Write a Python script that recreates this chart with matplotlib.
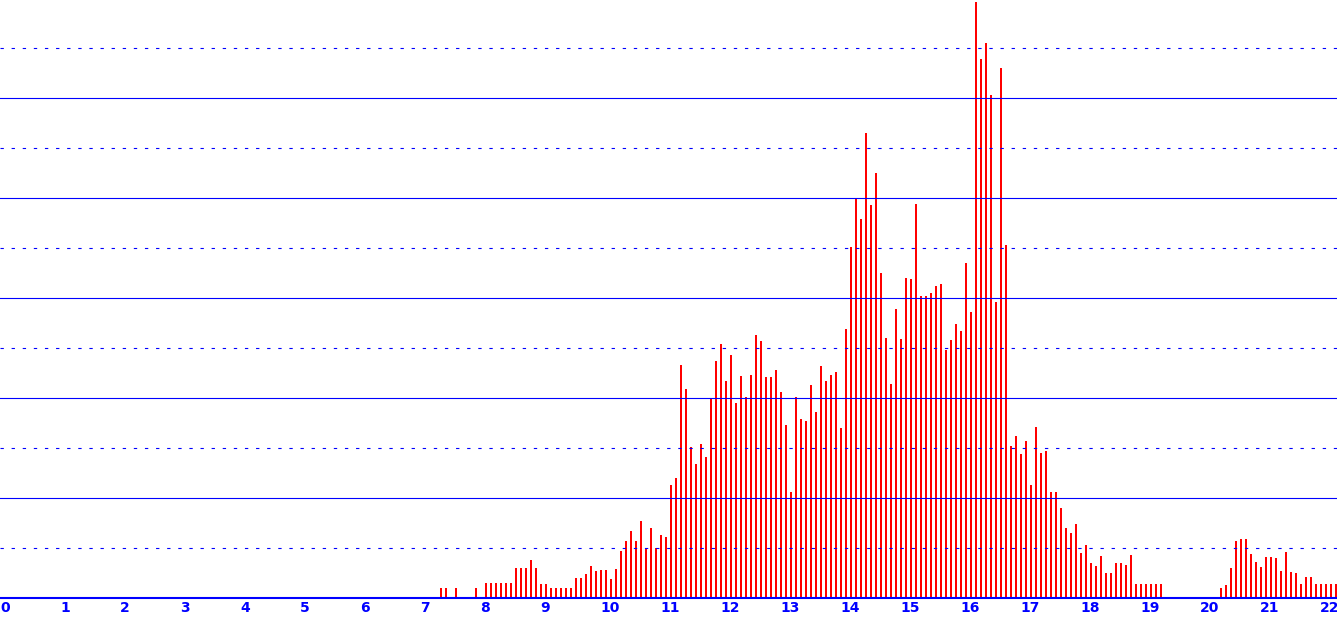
import numpy as np
import matplotlib.pyplot as plt

# bar heights, one bar every 1/12 on x, first bar at x = 7 + 4/12
first_slot = 88
heights = [
    0.20, 0.20, 0.00, 0.20, 0.00, 0.00, 0.00, 0.20,                      # 7.33 .. 7.92
    0.00, 0.30, 0.30, 0.30, 0.30, 0.30, 0.30, 0.60, 0.60, 0.60, 0.76, 0.60,  # 8
    0.28, 0.28, 0.20, 0.20, 0.20, 0.20, 0.20, 0.40, 0.40, 0.48, 0.64, 0.54,  # 9
    0.57, 0.57, 0.39, 0.59, 0.95, 1.15, 1.35, 1.15, 1.55, 1.00, 1.41, 1.00,  # 10
    1.27, 1.23, 2.27, 2.41, 4.67, 4.19, 3.03, 2.69, 3.09, 2.83, 4.01, 4.75,  # 11
    5.09, 4.35, 4.87, 3.91, 4.45, 4.03, 4.47, 5.27, 5.15, 4.43, 4.43, 4.57,  # 12
    4.13, 3.47, 2.13, 4.03, 3.59, 3.55, 4.27, 3.73, 4.65, 4.35, 4.47, 4.53,  # 13
    3.41, 5.39, 7.03, 8.01, 7.59, 9.31, 7.87, 8.51, 6.51, 5.21, 4.29, 5.79,  # 14
    5.19, 6.41, 6.39, 7.89, 6.05, 6.05, 6.11, 6.25, 6.29, 4.97, 5.17, 5.48,  # 15
    5.34, 6.71, 5.72, 11.92, 10.78, 11.11, 10.06, 5.93, 10.60, 7.06, 3.04, 3.25,  # 16
    2.88, 3.14, 2.26, 3.43, 2.91, 2.95, 2.13, 2.13, 1.80, 1.40, 1.31, 1.49,  # 17
    0.91, 1.07, 0.71, 0.65, 0.85, 0.51, 0.51, 0.71, 0.71, 0.67, 0.87, 0.29,  # 18
    0.29, 0.29, 0.29, 0.29, 0.29, 0.00, 0.00, 0.00, 0.00, 0.00, 0.00, 0.00,  # 19
    0.00, 0.00, 0.00, 0.00, 0.21, 0.27, 0.61, 1.15, 1.19, 1.19, 0.89, 0.73,  # 20
    0.63, 0.83, 0.83, 0.81, 0.55, 0.93, 0.53, 0.51, 0.29, 0.43, 0.43, 0.29,  # 21
    0.29, 0.29, 0.29, 0.29,                                              # 22
]
x_ticks = list(range(0, 23))

blue = '#0000ff'
red = '#ff0000'

x = (first_slot + np.arange(len(heights))) / 12.0

fig = plt.figure(figsize=(13.37, 6.18), dpi=100)
ax = fig.add_axes([0, 20 / 618, 1, 598 / 618])

ax.bar(x, heights, width=2.2 / 60, align='edge', color=red, zorder=2,
       antialiased=False)

# gridlines drawn over the bars: solid on even values, dotted on odd ones
for v in range(1, 12):
    if v % 2 == 0:
        ax.axhline(v, color=blue, lw=0.8, zorder=3)
    else:
        ax.axhline(v, color=blue, lw=0.8, ls=(0, (3, 7)), zorder=3)

ax.set_xlim(0, 1337 / 60)
ax.set_ylim(0, 598 / 50)
for s in ['top', 'left', 'right']:
    ax.spines[s].set_visible(False)
ax.spines['bottom'].set_color(blue)
ax.spines['bottom'].set_linewidth(1.5)
ax.spines['bottom'].set_zorder(4)
ax.set_yticks([])
ax.set_xticks(x_ticks)
ax.set_xticklabels([str(t) for t in x_ticks], ha='left')
ax.tick_params(axis='x', length=0, pad=2, labelsize=10, labelcolor=blue)
for lab in ax.get_xticklabels():
    lab.set_fontweight('bold')

plt.savefig('out.png', dpi=100)
